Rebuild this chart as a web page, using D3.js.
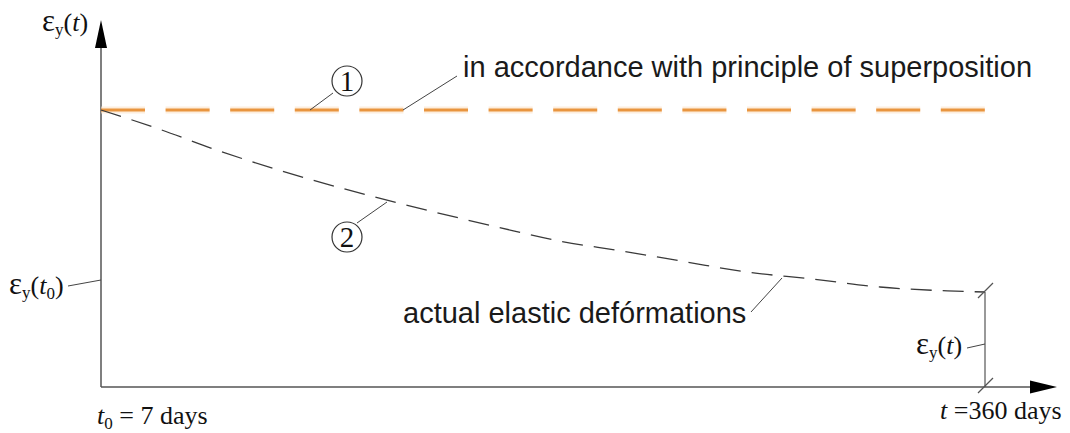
<!DOCTYPE html>
<html><head><meta charset="utf-8">
<script src="https://cdn.jsdelivr.net/npm/d3@7"></script>
<style>body{margin:0;background:#fff}svg{display:block}</style>
</head><body>
<svg id="chart" width="1070" height="433"></svg>
<script>
// ---- data ----
const days = [7, 29, 53, 78, 103, 140, 165, 190, 215, 241, 265, 291, 318, 345, 360];
const actualStrain = [1.0, 0.935, 0.856, 0.783, 0.718, 0.632, 0.578, 0.527, 0.491, 0.451, 0.415, 0.390, 0.361, 0.347, 0.343];
const superDays = [7, 360];
const superStrain = [1, 1];
const startLabel = "7 days";
const endLabel = "360 days";
const label1 = "in accordance with principle of superposition";
const label2 = "actual elastic defórmations";

// ---- layout ----
const svg = d3.select("#chart");
const x = d3.scaleLinear().domain([7, 360]).range([101, 985]);
const y = d3.scaleLinear().domain([0, 1]).range([387, 110]);
const axisColor = "#555";
const serif = "'Liberation Serif','Times New Roman',serif";
const sans = "'Liberation Sans',Arial,sans-serif";

// axes
const x0 = x.range()[0], y0 = y.range()[0];
svg.append("line").attr("x1", x0).attr("y1", y0).attr("x2", 1032).attr("y2", y0)
  .attr("stroke", axisColor).attr("stroke-width", 1.5);
svg.append("path").attr("d", `M1057,${y0} L1030,${y0-6.5} L1030,${y0+6.5} Z`).attr("fill", "#000");
svg.append("line").attr("x1", x0).attr("y1", y0).attr("x2", x0).attr("y2", 46)
  .attr("stroke", axisColor).attr("stroke-width", 1.5);
svg.append("path").attr("d", `M${x0},20 L${x0-6},48 L${x0+6},48 Z`).attr("fill", "#000");

// superposition line (orange)
const line = d3.line().x(d=>x(d[0])).y(d=>y(d[1]));
svg.append("path").datum(d3.zip(superDays, superStrain)).attr("d", line)
  .attr("fill", "none").attr("stroke", "#fbe3c8").attr("stroke-width", 7)
  .attr("stroke-dasharray", "44 20.6").attr("opacity", 0.6);
svg.append("path").datum(d3.zip(superDays, superStrain)).attr("d", line)
  .attr("fill", "none").attr("stroke", "#e9953f").attr("stroke-width", 3.2)
  .attr("stroke-dasharray", "44 20.6");

// actual curve
const curve = d3.line().x(d=>x(d[0])).y(d=>y(d[1])).curve(d3.curveMonotoneX);
svg.append("path").datum(d3.zip(days, actualStrain)).attr("d", curve)
  .attr("fill", "none").attr("stroke", "#3a3a3a").attr("stroke-width", 1.3)
  .attr("stroke-dasharray", "21 11");

// end dimension line
const xe = x(360), ye = y(actualStrain[actualStrain.length-1]);
svg.append("line").attr("x1", xe).attr("y1", ye).attr("x2", xe).attr("y2", y0)
  .attr("stroke", axisColor).attr("stroke-width", 1.2);
[ye, y0].forEach(yy => {
  svg.append("line").attr("x1", xe-7).attr("y1", yy+6).attr("x2", xe+8).attr("y2", yy-9)
    .attr("stroke", axisColor).attr("stroke-width", 1.2);
});

// leaders
const leader = (a,b,c,d) => svg.append("line").attr("x1",a).attr("y1",b).attr("x2",c).attr("y2",d)
  .attr("stroke", "#444").attr("stroke-width", 1);
leader(310, 110, 333, 93);
leader(403, 110, 457, 76);
leader(357, 223, 387, 202);
leader(751, 312, 782, 278);
leader(68, 286, x0, 280);
leader(967, 348, xe, 344);

// circled numbers
[[347, 81, "1"], [347, 237, "2"]].forEach(([cx, cy, t]) => {
  svg.append("circle").attr("cx", cx).attr("cy", cy).attr("r", 15)
    .attr("fill", "#fff").attr("stroke", "#333").attr("stroke-width", 1.2);
  svg.append("text").attr("x", cx).attr("y", cy + 10).attr("text-anchor", "middle")
    .attr("font-family", serif).attr("font-size", 29).attr("fill", "#111").text(t);
});

// sans labels
svg.append("text").attr("x", 463).attr("y", 77).attr("font-family", sans)
  .attr("font-size", 29).attr("fill", "#1a1a1a").text(label1);
svg.append("text").attr("x", 403).attr("y", 323).attr("font-family", sans)
  .attr("font-size", 29).attr("fill", "#1a1a1a").text(label2);

// serif math labels
function epsLabel(xp, yp, sub0) {
  const t = svg.append("text").attr("x", xp).attr("y", yp)
    .attr("font-family", serif).attr("font-size", 26).attr("fill", "#111");
  t.append("tspan").attr("font-size", 31).text("ε");
  t.append("tspan").attr("font-size", 17).attr("dy", 4).text("y");
  t.append("tspan").attr("dy", -4).text("(");
  t.append("tspan").attr("font-style", "italic").text("t");
  if (sub0) {
    t.append("tspan").attr("font-size", 17).attr("dy", 5).text("0");
    t.append("tspan").attr("dy", -5).text(")");
  } else {
    t.append("tspan").text(")");
  }
}
epsLabel(42, 31, false);
epsLabel(9, 294, true);
epsLabel(916, 354, false);

const tl = svg.append("text").attr("x", 97).attr("y", 424)
  .attr("font-family", serif).attr("font-size", 26).attr("fill", "#111");
tl.append("tspan").attr("font-style", "italic").text("t");
tl.append("tspan").attr("font-size", 17).attr("dy", 5).text("0");
tl.append("tspan").attr("dy", -5).text(" = " + startLabel);

const tr = svg.append("text").attr("x", 940).attr("y", 419)
  .attr("font-family", serif).attr("font-size", 26).attr("fill", "#111");
tr.append("tspan").attr("font-style", "italic").text("t");
tr.append("tspan").text(" =" + endLabel);
</script>
</body></html>
